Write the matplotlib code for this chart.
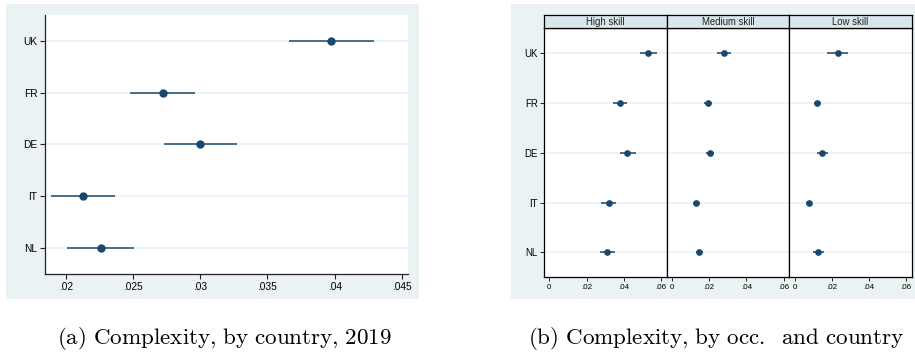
import matplotlib
matplotlib.use("Agg")
import matplotlib.pyplot as plt
from matplotlib.patches import Rectangle

plt.rcParams['font.family'] = ['Liberation Sans', 'DejaVu Sans']
plt.rcParams['mathtext.fontset'] = 'cm'

countries = ["UK", "FR", "DE", "IT", "NL"]

# Panel (a): complexity by country, 2019
a_est = [0.0397, 0.0272, 0.0300, 0.0213, 0.0226]
a_lo = [0.0366, 0.0248, 0.0273, 0.0189, 0.0201]
a_hi = [0.0429, 0.0296, 0.0327, 0.0237, 0.0251]
a_xticks = [0.02, 0.025, 0.03, 0.035, 0.04, 0.045]
a_xticklabels = [".02", ".025", ".03", ".035", ".04", ".045"]

# Panel (b): by occupation skill and country
skills = ["High skill", "Medium skill", "Low skill"]
b_est = [
    [0.0530, 0.0378, 0.0419, 0.0319, 0.0312],
    [0.0279, 0.0192, 0.0204, 0.0131, 0.0147],
    [0.0231, 0.0120, 0.0147, 0.0075, 0.0125],
]
b_lo = [
    [0.0487, 0.0340, 0.0378, 0.0278, 0.0272],
    [0.0242, 0.0172, 0.0183, 0.0115, 0.0127],
    [0.0175, 0.0102, 0.0118, 0.0063, 0.0097],
]
b_hi = [
    [0.0577, 0.0419, 0.0464, 0.0358, 0.0355],
    [0.0319, 0.0215, 0.0227, 0.0149, 0.0168],
    [0.0288, 0.0141, 0.0177, 0.0090, 0.0159],
]
b_xticks = [0, 0.02, 0.04, 0.06]
b_xticklabels = ["0", ".02", ".04", ".06"]

captions = [r"$\mathrm{(a)\ Complexity{,}\ by\ country{,}\ 2019}$",
            r"$\mathrm{(b)\ Complexity{,}\ by\ occ.\;\ and\ country}$"]

W, H = 915, 354
fig = plt.figure(figsize=(W / 100, H / 100), dpi=100)
fig.patch.set_facecolor("white")

BG = "#eaf2f3"
NAVY = "#1a476f"
STRIP = "#d9e6eb"


def fr(x0, y0, x1, y1):
    return [x0 / W, 1 - y1 / H, (x1 - x0) / W, (y1 - y0) / H]


# background panels
for (x0, y0, x1, y1) in [(6, 4, 419, 299), (511, 4, 915, 299)]:
    fig.patches.append(Rectangle((x0 / W, 1 - y1 / H), (x1 - x0) / W, (y1 - y0) / H,
                                 transform=fig.transFigure, facecolor=BG,
                                 edgecolor="none", zorder=-10))

ypos = list(range(len(countries), 0, -1))

# ---- Panel (a)
ax = fig.add_axes(fr(45, 15, 408, 274))
ax.set_facecolor("white")
for y in ypos:
    ax.axhline(y, color=BG, lw=1.2, zorder=1)
ax.hlines(ypos, a_lo, a_hi, color=NAVY, lw=1.1, zorder=2)
ax.plot(a_est, ypos, "o", color=NAVY, ms=5, zorder=3)
ax.set_xlim(0.01846, 0.04545)
ax.set_ylim(0.5, 5.5)
ax.set_yticks(ypos)
ax.set_yticklabels(countries)
ax.set_xticks(a_xticks)
ax.set_xticklabels(a_xticklabels)
for s in ["top", "right"]:
    ax.spines[s].set_visible(False)
for s in ["left", "bottom"]:
    ax.spines[s].set_color("#222222")
    ax.spines[s].set_linewidth(0.9)
ax.tick_params(axis="both", labelsize=7.3, length=3.5, width=0.8, color="#222222", pad=2)

# ---- Panel (b)
edges = [544, 666.7, 789.3, 911.7]
for i, sk in enumerate(skills):
    axb = fig.add_axes(fr(edges[i], 28.3, edges[i + 1], 277.3))
    axb.set_facecolor("white")
    for y in ypos:
        axb.axhline(y, color=BG, lw=1.2, zorder=1)
    axb.hlines(ypos, b_lo[i], b_hi[i], color=NAVY, lw=1.1, zorder=2)
    axb.plot(b_est[i], ypos, "o", color=NAVY, ms=3.8, zorder=3)
    axb.set_xlim(-0.0029, 0.0631)
    axb.set_ylim(0.5, 5.5)
    axb.set_xticks(b_xticks)
    axb.set_xticklabels(b_xticklabels)
    axb.set_yticks(ypos)
    if i == 0:
        axb.set_yticklabels(countries)
    else:
        axb.tick_params(axis="y", left=False, labelleft=False)
    for s in axb.spines.values():
        s.set_color("black")
        s.set_linewidth(0.9)
    axb.tick_params(axis="x", labelsize=5.8, length=3, width=0.7, color="#222222", pad=1.5)
    axb.tick_params(axis="y", labelsize=7.0, length=3, width=0.7, color="#222222", pad=1.5)
    # header strip
    hx = fig.add_axes(fr(edges[i], 15, edges[i + 1], 28.3))
    hx.set_facecolor(STRIP)
    hx.set_xticks([])
    hx.set_yticks([])
    for s in hx.spines.values():
        s.set_color("black")
        s.set_linewidth(0.9)
    hx.text(0.5, 0.45, sk, ha="center", va="center", fontsize=6.9, color="#222222",
            transform=hx.transAxes)

# captions
fig.text(224 / W, 1 - 339 / H, captions[0], ha="center", va="center", fontsize=16.6)
fig.text(716 / W, 1 - 339 / H, captions[1], ha="center", va="center", fontsize=16.6)

fig.savefig("out.png", dpi=100, facecolor=fig.get_facecolor())
